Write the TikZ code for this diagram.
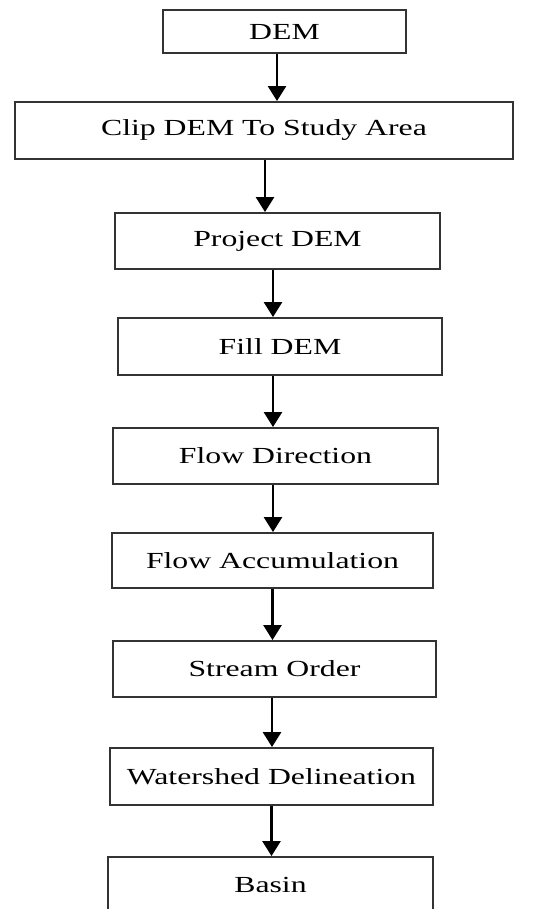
\documentclass[tikz,border=0pt]{standalone}
\usepackage{fontspec}
\setmainfont{Liberation Serif}[FakeStretch=1.38]
\usetikzlibrary{arrows.meta}
\begin{document}
\begin{tikzpicture}[x=1pt,y=-1pt,
	stepbox/.style={draw=black!80,line width=1.9pt,inner sep=0pt,font=\fontsize{23}{27}\selectfont},
	flow/.style={line width=2.6pt,-{Triangle[width=18pt,length=15pt]}}]
		\useasboundingbox (0,0) rectangle (544,909);
		\clip (0,0) rectangle (544,909);
		
		\node[stepbox,minimum width=243,minimum height=43] (dem) at (284.5,31.5) {DEM};
		\node[stepbox,minimum width=498,minimum height=57] (clip) at (264,130.5) {Clip DEM To Study Area};
		\node[stepbox,minimum width=325,minimum height=56] (proj) at (277.5,241) {Project DEM};
		\node[stepbox,minimum width=324,minimum height=57] (fill) at (280,346.5) {Fill DEM};
		\node[stepbox,minimum width=325,minimum height=56] (fdir) at (275.5,456) {Flow Direction};
		\node[stepbox,minimum width=321,minimum height=55] (facc) at (272.5,560.5) {Flow Accumulation};
		\node[stepbox,minimum width=323,minimum height=56] (sord) at (274.5,669) {Stream Order};
		\node[stepbox,minimum width=323,minimum height=57] (wshed) at (271.5,776.5) {Watershed Delineation};
		\node[stepbox,minimum width=325,minimum height=56] (basin) at (270.5,885) {Basin};
		
		\draw[flow] ([xshift=-7.5pt]dem.south) -- ([xshift=-7.5pt]dem.south |- clip.north);
		\draw[flow] ([xshift=1pt]clip.south) -- ([xshift=1pt]clip.south |- proj.north);
		\draw[flow] ([xshift=-4.5pt]proj.south) -- ([xshift=-4.5pt]proj.south |- fill.north);
		\draw[flow] ([xshift=-7pt]fill.south) -- ([xshift=-7pt]fill.south |- fdir.north);
		\draw[flow] ([xshift=-2.5pt]fdir.south) -- ([xshift=-2.5pt]fdir.south |- facc.north);
		\draw[flow] ([xshift=0pt]facc.south) -- ([xshift=0pt]facc.south |- sord.north);
		\draw[flow] ([xshift=-2.5pt]sord.south) -- ([xshift=-2.5pt]sord.south |- wshed.north);
		\draw[flow] ([xshift=0pt]wshed.south) -- ([xshift=0pt]wshed.south |- basin.north);
	\end{tikzpicture}
\end{document}
